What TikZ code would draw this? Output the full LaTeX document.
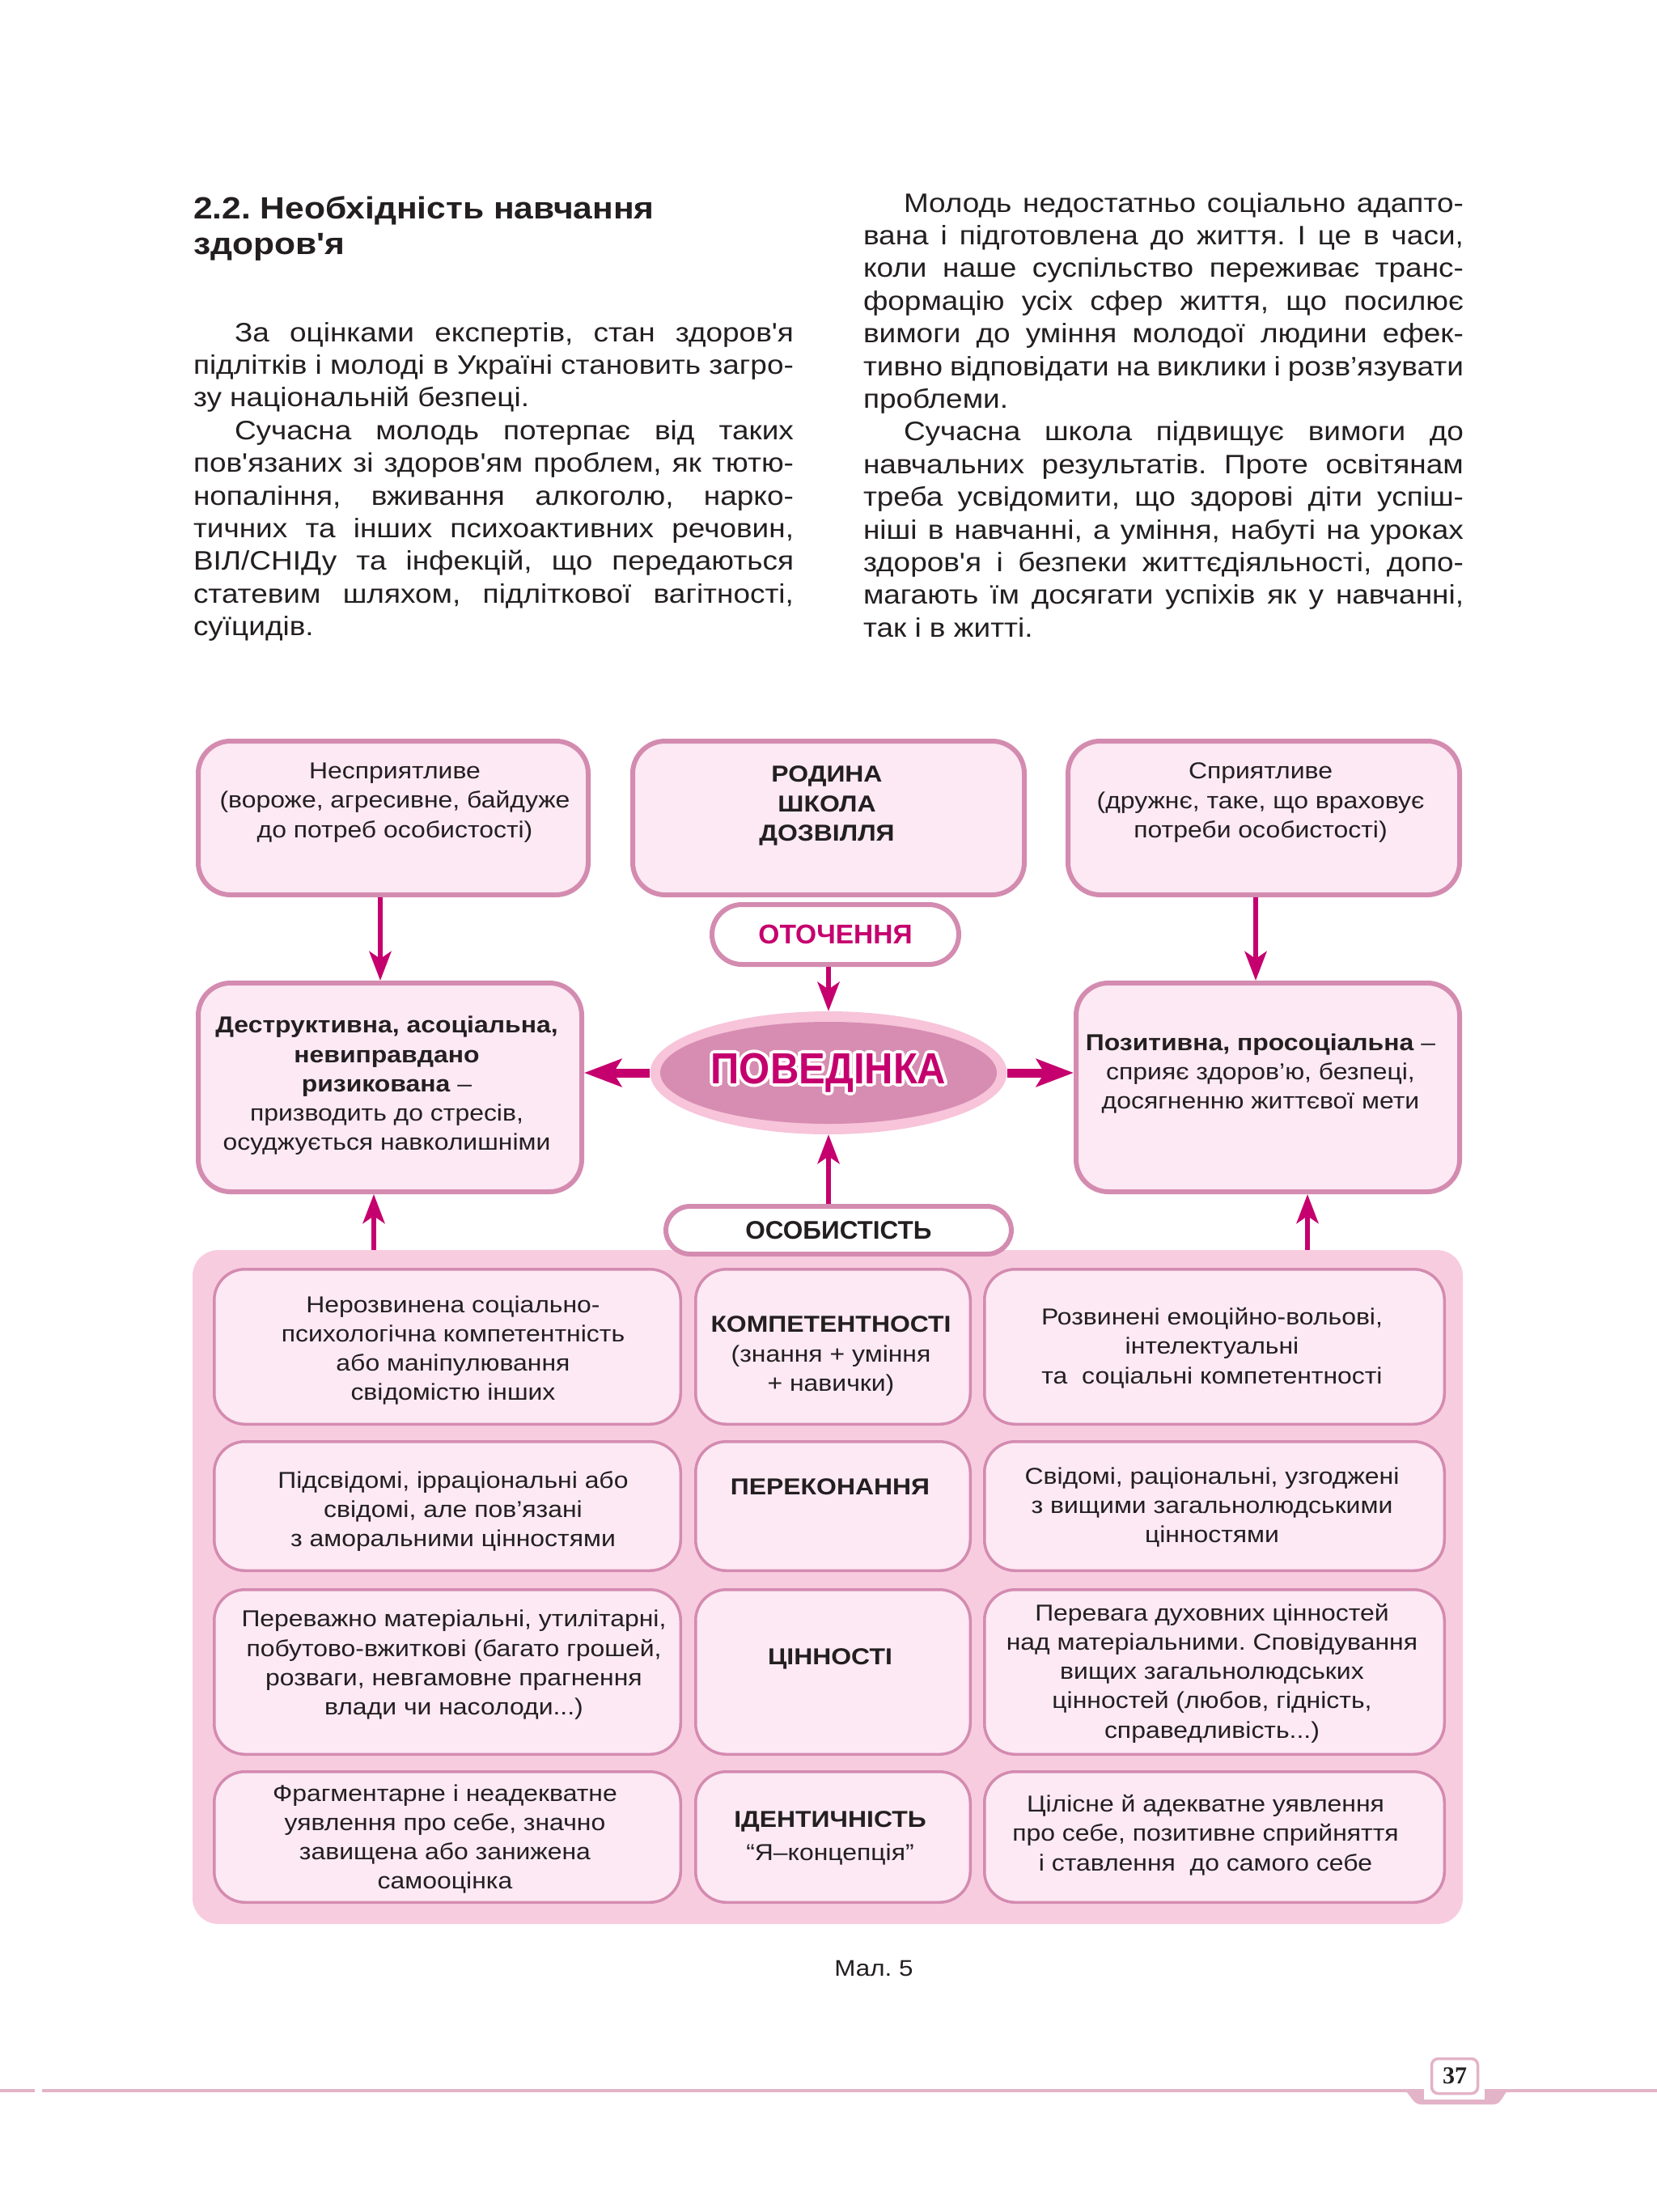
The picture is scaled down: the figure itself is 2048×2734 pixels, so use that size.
\documentclass[tikz,border=0pt]{standalone}
\usepackage{fontspec}
\setmainfont{Liberation Sans}[FakeStretch=1.12,Ligatures=TeXOff]
\newfontfamily\plainsans{Liberation Sans}[Ligatures=TeXOff]
\newfontfamily\numfont{Liberation Serif}
\usetikzlibrary{arrows.meta,shapes.geometric}
\frenchspacing
\definecolor{txt}{HTML}{231F20}
\definecolor{boxfill}{HTML}{FCE9F3}
\definecolor{boxline}{HTML}{D48BB0}
\definecolor{bgpink}{HTML}{F8CCDF}
\definecolor{ellout}{HTML}{F7C4D9}
\definecolor{ellin}{HTML}{D78DB2}
\definecolor{mag}{HTML}{C5006E}
\definecolor{footline}{HTML}{E3B3C7}
\newcommand\bodyfont{\fontsize{33}{40.4}\selectfont}
\newcommand\jline[5]{\node[anchor=base west,inner sep=0pt,outer sep=0pt,text=txt] (#1) at (#2,#3) {\bodyfont\hbox to #4pt{\spaceskip=0.278em plus 1fil minus 0.12em\relax #5}};}
\newcommand\lline[4]{\node[anchor=base west,inner sep=0pt,outer sep=0pt,text=txt] (#1) at (#2,#3) {\bodyfont #4};}
\newcommand\gbox[5]{\node[gridbox,minimum width=#4pt,minimum height=#5pt] (#1) at (#2,#3) {};}
\tikzset{
  bigbox/.style={draw=boxline,line width=6pt,fill=boxfill,rounded corners=40pt,inner sep=0pt},
  pillbox/.style={draw=boxline,line width=6pt,fill=white,inner sep=0pt},
  gridbox/.style={draw=boxline,line width=3.5pt,fill=boxfill,rounded corners=38pt,inner sep=0pt},
  boxtext/.style={align=center,font=\fontsize{28.5}{36.3}\selectfont,text=txt,inner sep=0pt},
  arr/.style={draw=mag,line width=6pt,-{Stealth[length=36pt,width=27pt,inset=9pt]}},
  harr/.style={draw=mag,line width=11pt,-{Stealth[length=46pt,width=34pt,inset=10pt]}},
  povfont/.style={font=\plainsans\bfseries\fontsize{49}{52}\selectfont,inner sep=0pt},
}
\begin{document}
\begin{tikzpicture}[x=1pt,y=-1pt]
\useasboundingbox (0,0) rectangle (2048,2734);
\fill[white] (0,0) rectangle (2048,2734);

% heading
\node[anchor=base west,inner sep=0pt,font=\bfseries\fontsize{38}{44}\selectfont,text=txt] (h1) at (239,270) {2.2. Необхідність навчання};
\node[anchor=base west,inner sep=0pt,font=\bfseries\fontsize{38}{44}\selectfont,text=txt] (h2) at (239,314) {здоров'я};

% left column
\jline{l1}{290}{422}{691}{За оцінками експертів, стан здоров'я}
\jline{l2}{239}{462.4}{742}{підлітків і молоді в Україні становить загро-}
\lline{l3}{239}{502.8}{зу національній безпеці.}
\jline{l4}{290}{543.2}{691}{Сучасна молодь потерпає від таких}
\jline{l5}{239}{583.6}{742}{пов'язаних зі здоров'ям проблем, як тютю-}
\jline{l6}{239}{624}{742}{нопаління, вживання алкоголю, нарко-}
\jline{l7}{239}{664.4}{742}{тичних та інших психоактивних речовин,}
\jline{l8}{239}{704.8}{742}{ВІЛ/СНІДу та інфекцій, що передаються}
\jline{l9}{239}{745.2}{742}{статевим шляхом, підліткової вагітності,}
\lline{l10}{239}{785.6}{суїцидів.}

% right column
\jline{r1}{1117}{262}{692}{Молодь недостатньо соціально адапто-}
\jline{r2}{1067}{302.4}{742}{вана і підготовлена до життя. І це в часи,}
\jline{r3}{1067}{342.8}{742}{коли наше суспільство переживає транс-}
\jline{r4}{1067}{383.2}{742}{формацію усіх сфер життя, що посилює}
\jline{r5}{1067}{423.6}{742}{вимоги до уміння молодої людини ефек-}
\jline{r6}{1067}{464}{742}{тивно відповідати на виклики і розв’язувати}
\lline{r7}{1067}{504.4}{проблеми.}
\jline{r8}{1117}{544.8}{692}{Сучасна школа підвищує вимоги до}
\jline{r9}{1067}{585.2}{742}{навчальних результатів. Проте освітянам}
\jline{r10}{1067}{625.6}{742}{треба усвідомити, що здорові діти успіш-}
\jline{r11}{1067}{666}{742}{ніші в навчанні, а уміння, набуті на уроках}
\jline{r12}{1067}{706.4}{742}{здоров'я і безпеки життєдіяльності, допо-}
\jline{r13}{1067}{746.8}{742}{магають їм досягати успіхів як у навчанні,}
\lline{r14}{1067}{787.2}{так і в житті.}

% top boxes
\node[bigbox,minimum width=482pt,minimum height=190pt] (tl) at (486,1011) {};
\node[bigbox,minimum width=484pt,minimum height=190pt] (tm) at (1024,1011) {};
\node[bigbox,minimum width=484pt,minimum height=190pt] (tr) at (1562,1011) {};
\node[boxtext] (tlt) at (488,992) {Несприятливе\\(вороже, агресивне, байдуже\\до потреб особистості)};
\node[boxtext,font=\bfseries\fontsize{28.5}{36.3}\selectfont] (tmt) at (1022,996) {РОДИНА\\ШКОЛА\\ДОЗВІЛЛЯ};
\node[boxtext] (trt) at (1558,992) {Сприятливе\\(дружнє, таке, що враховує\\потреби особистості)};

% environment pill
\node[pillbox,rounded corners=37pt,minimum width=305pt,minimum height=74pt,font=\plainsans\bfseries\fontsize{33.5}{36}\selectfont,text=mag] (ot) at (1032.5,1155) {ОТОЧЕННЯ};

% middle boxes
\node[bigbox,minimum width=474pt,minimum height=258pt] (lm) at (482,1344) {};
\node[bigbox,minimum width=474pt,minimum height=258pt] (rm) at (1567,1344) {};
\node[boxtext] (lmt) at (478,1342) {\textbf{Деструктивна, асоціальна,}\\\textbf{невиправдано}\\\textbf{ризикована} –\\призводить до стресів,\\осуджується навколишніми};
\node[boxtext] (rmt) at (1558,1327) {\textbf{Позитивна, просоціальна} –\\сприяє здоров’ю, безпеці,\\досягненню життєвої мети};

% behaviour ellipse
\node[ellipse,fill=ellout,minimum width=441pt,minimum height=152pt,inner sep=0pt] (beh) at (1024,1326) {};
\node[ellipse,fill=ellin,minimum width=416pt,minimum height=126pt,inner sep=0pt] (behin) at (1024,1326) {};
\foreach \a in {0,30,...,330}{
  \path (beh.center) ++(\a:4pt) node[povfont,text=white] (pov\a) {\scalebox{1}[1.1]{ПОВЕДІНКА}};
}
\node[povfont,text=mag] (pov) at (beh.center) {\scalebox{1}[1.1]{ПОВЕДІНКА}};

% personality background
\node[fill=bgpink,rounded corners=32pt,minimum width=1570pt,minimum height=833pt,inner sep=0pt] (bg) at (1023,1961.5) {};
\node[pillbox,rounded corners=30pt,minimum width=427pt,minimum height=59pt,font=\plainsans\bfseries\fontsize{31.5}{36}\selectfont,text=txt] (os) at (1036.5,1520.5) {ОСОБИСТІСТЬ};

% grid
\gbox{c11}{553}{1664.5}{576.5}{191.5}
\gbox{c12}{1029.5}{1664.5}{339.5}{191.5}
\gbox{c13}{1501}{1664.5}{568.5}{191.5}
\gbox{c21}{553}{1861.5}{576.5}{159.5}
\gbox{c22}{1029.5}{1861.5}{339.5}{159.5}
\gbox{c23}{1501}{1861.5}{568.5}{159.5}
\gbox{c31}{553}{2066.5}{576.5}{203.5}
\gbox{c32}{1029.5}{2066.5}{339.5}{203.5}
\gbox{c33}{1501}{2066.5}{568.5}{203.5}
\gbox{c41}{553}{2270.5}{576.5}{161.5}
\gbox{c42}{1029.5}{2270.5}{339.5}{161.5}
\gbox{c43}{1501}{2270.5}{568.5}{161.5}

\node[boxtext] (t11) at (560,1669) {Нерозвинена соціально-\\психологічна компетентність\\або маніпулювання\\свідомістю інших};
\node[boxtext] (t12) at (1027,1676) {\textbf{КОМПЕТЕНТНОСТІ}\\(знання + уміння\\+ навички)};
\node[boxtext] (t13) at (1498,1666) {Розвинені емоційно-вольові,\\інтелектуальні\\та\ \ соціальні компетентності};
\node[boxtext] (t21) at (560,1868) {Підсвідомі, ірраціональні або\\свідомі, але пов’язані\\з аморальними цінностями};
\node[boxtext,font=\bfseries\fontsize{28.5}{36.3}\selectfont] (t22) at (1026,1838) {ПЕРЕКОНАННЯ};
\node[boxtext] (t23) at (1498,1863) {Свідомі, раціональні, узгоджені\\з вищими загальнолюдськими\\цінностями};
\node[boxtext] (t31) at (561,2058) {Переважно матеріальні, утилітарні,\\побутово-вжиткові (багато грошей,\\розваги, невгамовне прагнення\\влади чи насолоди...)};
\node[boxtext,font=\bfseries\fontsize{28.5}{36.3}\selectfont] (t32) at (1026,2050) {ЦІННОСТІ};
\node[boxtext] (t33) at (1498,2068) {Перевага духовних цінностей\\над матеріальними. Сповідування\\вищих загальнолюдських\\цінностей (любов, гідність,\\справедливість...)};
\node[boxtext] (t41) at (550,2273) {Фрагментарне і неадекватне\\уявлення про себе, значно\\завищена або занижена\\самооцінка};
\node[boxtext] (t42) at (1026,2272) {\textbf{ІДЕНТИЧНІСТЬ}\\[4pt]“Я–концепція”};
\node[boxtext] (t43) at (1490,2268) {Цілісне й адекватне уявлення\\про себе, позитивне сприйняття\\і ставлення\ \ до самого себе};

% arrows
\coordinate (axl) at (470,0);
\coordinate (axr) at (1552,0);
\coordinate (aul) at (462,0);
\coordinate (aur) at (1616,0);
\draw[arr] (tl.south -| axl) -- (lm.north -| axl);
\draw[arr] (tr.south -| axr) -- (rm.north -| axr);
\draw[arr] (ot.south -| beh.north) -- (beh.north);
\draw[arr] (os.north -| beh.south) -- (beh.south);
\draw[arr] (bg.north -| aul) -- (lm.south -| aul);
\draw[arr] (bg.north -| aur) -- (rm.south -| aur);
\draw[harr] (beh.west) -- (lm.east |- beh.west);
\draw[harr] (beh.east) -- (rm.west |- beh.east);

% caption
\node[anchor=base,inner sep=0pt,font=\fontsize{28}{34}\selectfont,text=txt] (cap) at (1080,2442) {Мал. 5};

% footer
\draw[footline,line width=4pt] (0,2584) -- (43,2584);
\draw[footline,line width=4pt] (52,2584) -- (2048,2584);
\fill[footline] (1731,2582) .. controls (1742,2582) and (1744,2601) .. (1756,2601) -- (1846,2601) .. controls (1858,2601) and (1858,2582) .. (1869,2582) -- cycle;
\fill[white] (1760,2578) rectangle (1835,2595);
\node[draw=footline,line width=3.5pt,fill=white,rounded corners=8pt,minimum width=57pt,minimum height=43pt,inner sep=0pt,font=\numfont\bfseries\fontsize{30}{34}\selectfont,text=txt] (pg) at (1798,2566) {37};
\end{tikzpicture}
\end{document}
